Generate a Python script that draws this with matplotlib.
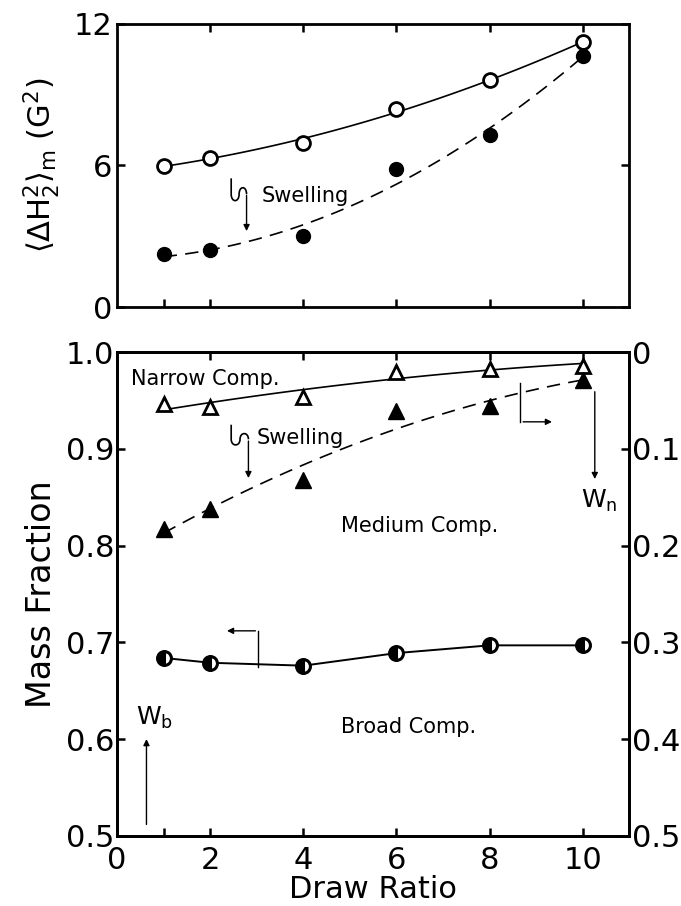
import matplotlib
matplotlib.use("Agg")
import matplotlib.pyplot as plt
from matplotlib.path import Path
from matplotlib.patches import PathPatch
import numpy as np

plt.rcParams['font.family'] = ['DejaVu Sans']
plt.rcParams['mathtext.fontset'] = 'dejavusans'

# draw ratios
draw = [1, 2, 4, 6, 8, 10]

# top panel: second moment <dH2^2>_m (G^2)
m2_dry = [5.97, 6.33, 6.95, 8.4, 9.6, 11.2]
m2_swollen = [2.24, 2.41, 3.03, 5.83, 7.27, 10.63]

# bottom panel
wb = [0.684, 0.679, 0.676, 0.689, 0.697, 0.697]           # left axis
wn_dry = [0.054, 0.057, 0.046, 0.020, 0.017, 0.014]       # right axis
wn_swollen = [0.183, 0.162, 0.132, 0.061, 0.056, 0.029]   # right axis

fig = plt.figure(figsize=(6.81, 9.06), dpi=100)
ax1 = fig.add_axes([0.172, 0.661, 0.752, 0.313])
ax2 = fig.add_axes([0.172, 0.0773, 0.752, 0.534])

lw_sp = 2.0
tick_kw = dict(direction='in', length=6, width=1.8, labelsize=22)
arrow = dict(arrowstyle='-|>', color='k', lw=1.0, mutation_scale=9)

xs = np.linspace(1, 10, 100)


def squiggle(ax, x0, x1, x2, ytop, ybot, dy):
    # little hook drawn before the "Swelling" arrow
    verts = [(x0, ytop), (x0, ybot + dy),
             (x0, ybot - dy * 0.3), (x1, ybot - dy * 0.3), (x1, ybot + dy),
             (x1, ybot + dy * 2.3), (x2, ybot + dy * 2.3), (x2, ybot + dy)]
    codes = [Path.MOVETO, Path.LINETO,
             Path.CURVE4, Path.CURVE4, Path.CURVE4,
             Path.CURVE4, Path.CURVE4, Path.CURVE4]
    ax.add_patch(PathPatch(Path(verts, codes), fc='none', ec='k', lw=1.2))


# ---- top
ax1.plot(xs, np.polyval(np.polyfit(draw, m2_dry, 2), xs), 'k-', lw=1.2)
ax1.plot(xs, np.polyval(np.polyfit(draw, m2_swollen, 2), xs), 'k--', lw=1.2, dashes=(8, 5))
ax1.plot(draw, m2_dry, 'o', ms=10, mfc='white', mec='k', mew=2.0)
ax1.plot(draw, m2_swollen, 'o', ms=10, mfc='k', mec='k')
ax1.set_xlim(0, 11)
ax1.set_ylim(0, 12)
ax1.set_yticks([0, 6, 12])
ax1.set_xticks([1, 2, 4, 6, 8, 10])
ax1.tick_params(axis='both', right=True, **tick_kw)
ax1.tick_params(axis='x', labelbottom=False)
for s in ax1.spines.values():
    s.set_linewidth(lw_sp)
ax1t = ax1.secondary_xaxis('top')
ax1t.set_xticks([2, 4, 6, 8, 10])
ax1t.tick_params(direction='in', length=6, width=1.8, labeltop=False)
ax1.set_ylabel(r'$\langle\Delta\mathrm{H}_2^2\rangle_\mathrm{m}$ (G$^2$)', fontsize=22, labelpad=8)

squiggle(ax1, 2.45, 2.62, 2.78, 5.45, 4.5, 0.28)
ax1.annotate('', xy=(2.78, 3.1), xytext=(2.78, 4.85), arrowprops=arrow)
ax1.text(3.1, 4.7, 'Swelling', fontsize=15, va='center')

# ---- bottom
ax2r = ax2.twinx()
ax2.plot(draw, wb, 'k-', lw=1.4)
ax2.plot(draw, wb, 'o', ms=10, mfc='k', mfcalt='white', fillstyle='left',
         mec='k', mew=2.2)
ax2r.plot(xs, np.polyval(np.polyfit(draw, wn_dry, 2), xs), 'k-', lw=1.2)
ax2r.plot(xs, np.polyval(np.polyfit(draw, wn_swollen, 2), xs), 'k--', lw=1.2, dashes=(8, 5))
ax2r.plot(draw, wn_dry, '^', ms=10, mfc='white', mec='k', mew=2.0)
ax2r.plot(draw, wn_swollen, '^', ms=11, mfc='k', mec='k')

ax2.set_xlim(0, 11)
ax2.set_ylim(0.5, 1.0)
ax2r.set_ylim(0.5, 0.0)
ax2.set_xticks([0, 1, 2, 4, 6, 8, 10])
ax2.set_xticklabels(['0', '', '2', '4', '6', '8', '10'])
ax2.set_yticks([0.5, 0.6, 0.7, 0.8, 0.9, 1.0])
ax2.set_yticklabels(['0.5', '0.6', '0.7', '0.8', '0.9', '1.0'])
ax2r.set_yticks([0, 0.1, 0.2, 0.3, 0.4, 0.5])
ax2r.set_yticklabels(['0', '0.1', '0.2', '0.3', '0.4', '0.5'])
ax2.tick_params(axis='both', **tick_kw)
ax2.tick_params(axis='x', pad=7)
ax2.tick_params(axis='y', pad=2)
ax2r.tick_params(axis='y', pad=2, **tick_kw)
for s in list(ax2.spines.values()) + list(ax2r.spines.values()):
    s.set_linewidth(lw_sp)
ax2t = ax2.secondary_xaxis('top')
ax2t.set_xticks([2, 4, 6, 8, 10])
ax2t.tick_params(direction='in', length=6, width=1.8, labeltop=False)
ax2.set_xlabel('Draw Ratio', fontsize=22, labelpad=0)
ax2.set_ylabel('Mass Fraction', fontsize=24, labelpad=6)

ax2.text(0.3, 0.972, 'Narrow Comp.', fontsize=15, va='center')
ax2.text(6.5, 0.82, 'Medium Comp.', fontsize=15, va='center', ha='center')
ax2.text(6.25, 0.613, 'Broad Comp.', fontsize=15, va='center', ha='center')

squiggle(ax2, 2.45, 2.64, 2.82, 0.925, 0.904, 0.006)
ax2.annotate('', xy=(2.82, 0.867), xytext=(2.82, 0.911), arrowprops=arrow)
ax2.text(3.0, 0.911, 'Swelling', fontsize=15, va='center')

# axis pointer brackets
ax2.plot([8.66, 8.66], [0.968, 0.928], 'k-', lw=1.0)
ax2.annotate('', xy=(9.4, 0.928), xytext=(8.66, 0.928), arrowprops=arrow)
ax2.plot([3.03, 3.03], [0.675, 0.712], 'k-', lw=1.0)
ax2.annotate('', xy=(2.3, 0.712), xytext=(3.03, 0.712), arrowprops=arrow)

# Wn / Wb arrows
ax2.annotate('', xy=(10.26, 0.866), xytext=(10.26, 0.962), arrowprops=arrow)
ax2.text(10.35, 0.846, r'W$_\mathregular{n}$', fontsize=18, va='center', ha='center')
ax2.annotate('', xy=(0.63, 0.603), xytext=(0.63, 0.509), arrowprops=arrow)
ax2.text(0.4, 0.622, r'W$_\mathregular{b}$', fontsize=18, va='center')

fig.savefig('out.png', dpi=100)
